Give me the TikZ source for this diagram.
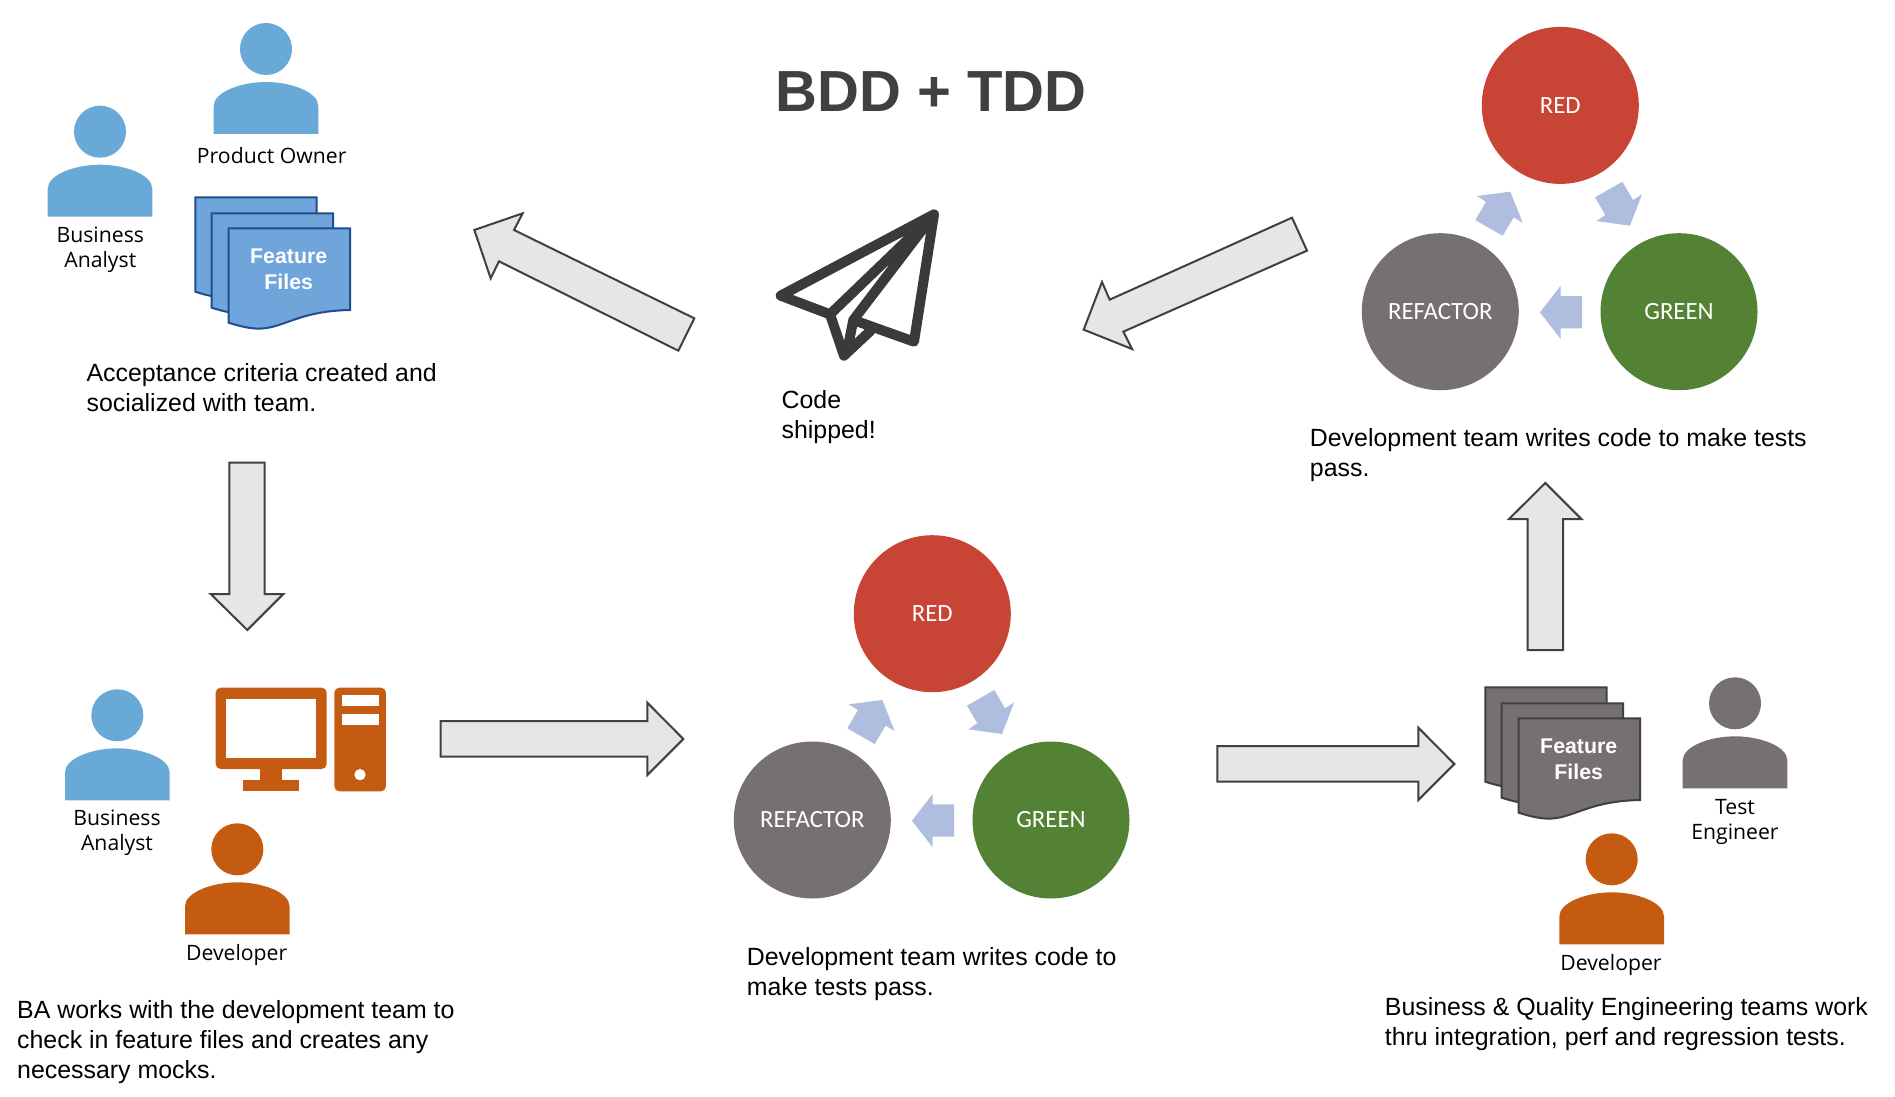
\documentclass[tikz,border=0pt]{standalone}
\usepackage{fontspec}
\setmainfont{Liberation Sans}
\newfontfamily\labelfont{Open Sans}
\newfontfamily\cyclefont{Carlito}
\definecolor{pblue}{HTML}{68A9D8}
\definecolor{porange}{HTML}{C55A11}
\definecolor{pgray}{HTML}{767170}
\definecolor{docblue}{HTML}{6FA5DB}
\definecolor{docblueline}{HTML}{1F4E8F}
\definecolor{docgrayline}{HTML}{404040}
\definecolor{cred}{HTML}{C84535}
\definecolor{cgreen}{HTML}{548235}
\definecolor{smallarrow}{HTML}{AFBDDF}
\definecolor{bigfill}{HTML}{E6E6E6}
\definecolor{bigline}{HTML}{404040}
\definecolor{planeink}{HTML}{3B3A38}
\tikzset{
  x=1pt,y=-1pt,
  bigarrow/.style={fill=bigfill,draw=bigline,line width=2pt,line join=miter},
  bodytext/.style={anchor=base west,align=left,inner sep=0pt,font=\fontsize{24.9}{30}\selectfont},
  roletext/.style={anchor=base,align=center,inner sep=0pt,font=\labelfont\fontsize{21.2}{25}\selectfont},
  cyclecircle/.style={circle,minimum size=157pt,inner sep=0pt,text=white,font=\cyclefont\fontsize{24.8}{28}\selectfont},
  pics/person/.style={code={
    \fill[#1] (0,0) circle[radius=26];
    \fill[#1] (-52.3,85) -- (-52.3,57) .. controls (-52.3,43) and (-25,33) .. (0,33)
       .. controls (25,33) and (52.3,43) .. (52.3,57) -- (52.3,85) -- cycle;
  }},
  pics/stack/.style n args={2}{code={
    \foreach \dx/\dy in {-33.4/-31,-17/-15,0/0}{
      \draw[fill=#1,draw=#2,line width=2pt,line join=miter,shift={(\dx,\dy)}]
        (228.7,228.3) -- (350,228.3) -- (350,310)
        .. controls (300,311) and (285,327) .. (262,328.5)
        .. controls (255,329) and (245,328) .. (228.7,322.7) -- cycle;
    }
    \node[text=white,align=center,inner sep=0pt,font=\bfseries\fontsize{21.3}{26.5}\selectfont] (label) at (288.7,269.5) {Feature\\Files};
  }},
  pics/tddcycle/.style={code={
    \node[cyclecircle,fill=cred] (red) at (212.3,93.7) {RED};
    \node[cyclecircle,fill=pgray] (refactor) at (92.3,300) {REFACTOR};
    \node[cyclecircle,fill=cgreen] (green) at (331,300) {GREEN};
    \begin{scope}[scale=1/3]
      \fill[smallarrow] (576,902) -- (638,822) -- (638,853) -- (702,853) -- (702,950) -- (638,950) -- (638,982) -- cycle;
      \fill[smallarrow] (487,540) -- (386,553) -- (414,570) -- (382,625) -- (464,672) -- (497,617) -- (524,633) -- cycle;
      \fill[smallarrow] (846,642) -- (745,628) -- (772,610) -- (741,557) -- (823,510) -- (855,565) -- (882,548) -- cycle;
    \end{scope}
  }},
}
\begin{document}
\begin{tikzpicture}
\useasboundingbox (0,0) rectangle (1895,1097);
\fill[white] (0,0) rectangle (1895,1097);

\node[inner sep=0pt,text=bigline,font=\bfseries\fontsize{58}{60}\selectfont] (title) at (931,92) {BDD + TDD};

% people
\pic at (266,49) {person=pblue};
\pic at (100,131.7) {person=pblue};
\pic at (117.3,715.3) {person=pblue};
\pic at (237.3,849.3) {person=porange};
\pic at (1735,703.3) {person=pgray};
\pic at (1611.7,859.3) {person=porange};

\node[roletext] (po) at (271.7,163.3) {Product Owner};
\node[roletext] (ba1) at (100.3,267) {Business\\Analyst};
\node[roletext] (ba2) at (117,850.3) {Business\\Analyst};
\node[roletext] (dev1) at (236.7,960) {Developer};
\node[roletext] (test) at (1735,839) {Test\\Engineer};
\node[roletext] (dev2) at (1611,970) {Developer};

% feature files
\pic (blue) at (0,0) {stack={docblue}{docblueline}};
\pic (gray) at (1290,490) {stack={pgray}{docgrayline}};

% cycles
\pic (mid) at (720,520) {tddcycle};
\pic (top) at (1348,11.7) {tddcycle};

% computer
\begin{scope}[shift={(40,660)},scale=1/3]
  \fill[porange,rounded corners=5pt] (527,83) rectangle (860,327);
  \fill[white] (559,116) rectangle (827,294);
  \fill[porange] (660,320) rectangle (727,365);
  \fill[porange] (610,360) rectangle (777,394);
  \fill[porange,rounded corners=5pt] (883,83) rectangle (1038,394);
  \fill[white] (905,105) rectangle (1016,138);
  \fill[white] (905,161) rectangle (1016,194);
  \fill[white] (960,344) circle[radius=17];
\end{scope}

% paper plane
\begin{scope}[shift={(740,180)},scale=1/3]
  \draw[planeink,line width=10pt,line join=round,line cap=round]
    (582,103) -- (122,347) -- (270,403) -- (312,527) -- (392,452)
    (270,403) -- (582,103)
    (582,103) -- (522,485) -- (340,420) -- cycle
    (340,420) -- (322,510);
\end{scope}

% big arrows
\begin{scope}[shift={(460,200)},scale=1/3]
  \draw[bigarrow] (43,90) -- (188,40) -- (162,90) -- (703,355) -- (655,452) -- (117,184) -- (92,235) -- cycle;
\end{scope}
\begin{scope}[shift={(1070,200)},scale=1/3]
  \draw[bigarrow] (666,53) -- (711,152) -- (160,395) -- (186,447) -- (41,389) -- (96,246) -- (119,299) -- cycle;
\end{scope}
\begin{scope}[shift={(200,450)},scale=1/3]
  \draw[bigarrow] (88,38) -- (194,38) -- (194,432) -- (250,432) -- (142,540) -- (32,432) -- (88,432) -- cycle;
\end{scope}
\begin{scope}[shift={(430,690)},scale=1/3]
  \draw[bigarrow] (32,93) -- (652,93) -- (652,38) -- (760,147) -- (652,255) -- (652,200) -- (32,200) -- cycle;
\end{scope}
\begin{scope}[shift={(1210,715)},scale=1/3]
  \draw[bigarrow] (22,93) -- (625,93) -- (625,38) -- (733,147) -- (625,255) -- (625,200) -- (22,200) -- cycle;
\end{scope}
\begin{scope}[shift={(1500,475)},scale=1/3]
  \draw[bigarrow] (136,24) -- (244,132) -- (189,132) -- (189,525) -- (83,525) -- (83,132) -- (27,132) -- cycle;
\end{scope}

% body texts
\node[bodytext] (t1) at (86.4,411.3) {Acceptance criteria created and\\socialized with team.};
\node[bodytext] (t2) at (781.4,438.3) {Code\\shipped!};
\node[bodytext] (t3) at (1309.7,476) {Development team writes code to make tests\\pass.};
\node[bodytext] (t4) at (746.7,995) {Development team writes code to\\make tests pass.};
\node[bodytext] (t5) at (17,1078) {BA works with the development team to\\check in feature files and creates any\\necessary mocks.};
\node[bodytext] (t6) at (1384.7,1045.5) {Business \& Quality Engineering teams work\\thru integration, perf and regression tests.};
\end{tikzpicture}
\end{document}
